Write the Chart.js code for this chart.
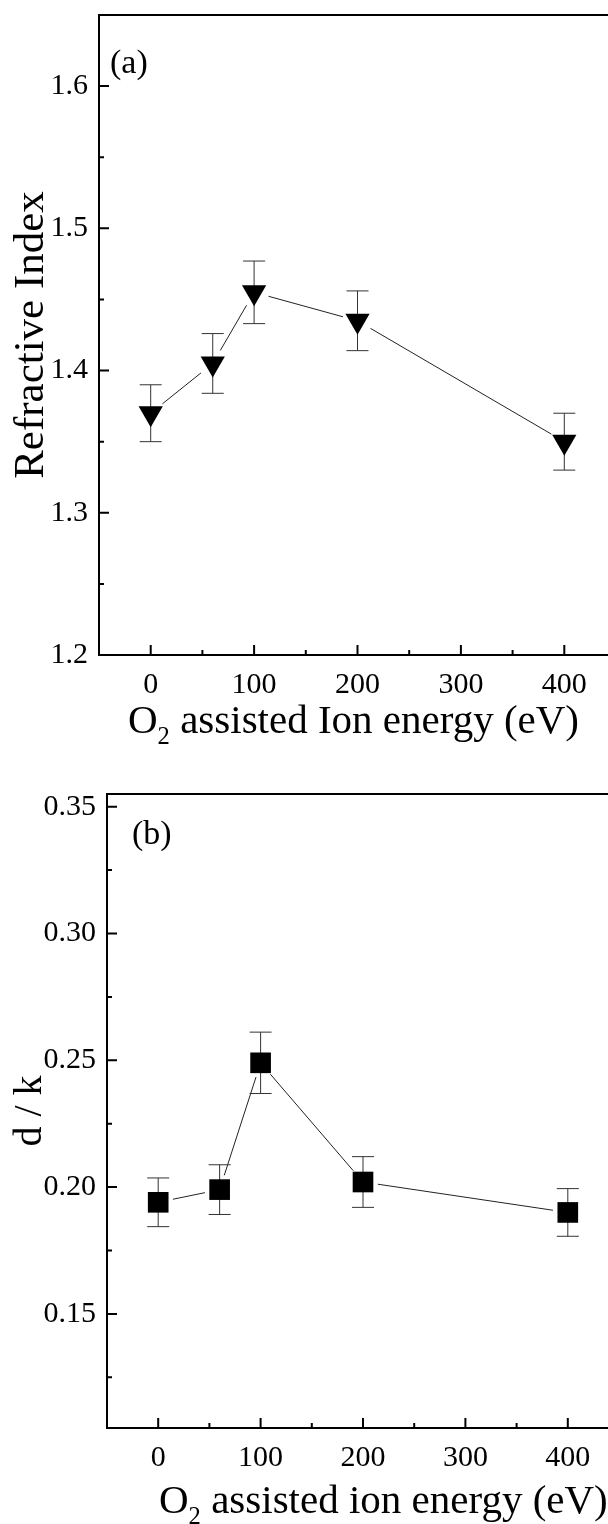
<!DOCTYPE html>
<html>
<head>
<meta charset="utf-8">
<title>Refractive index and d/k vs O2 ion energy</title>
<script src="https://cdn.jsdelivr.net/npm/chart.js@4.4.1/dist/chart.umd.min.js"></script>
<style>
    html, body { margin: 0; padding: 0; background: #fff; overflow: hidden; }
    #page { position: relative; width: 608px; height: 1524px; overflow: hidden; }
    .panel { position: absolute; left: 0; width: 640px; }
    .xtitle {
        position: absolute;
        font-family: "Liberation Serif", "Times New Roman", serif;
        font-size: 41px;
        line-height: 1;
        white-space: nowrap;
        color: #000;
    }
    .xtitle sub { font-size: 0.6em; vertical-align: -0.45em; line-height: 0; }
</style>
</head>
<body>
<div id="page">
    <div class="panel" style="top:0;height:760px"><canvas id="indexChart" width="640" height="760"></canvas></div>
    <div class="xtitle" style="left:128px;top:699px">O<sub>2</sub> assisted Ion energy (eV)</div>
    <div class="panel" style="top:760px;height:764px"><canvas id="dkChart" width="640" height="764"></canvas></div>
    <div class="xtitle" style="left:159px;top:1479px">O<sub>2</sub> assisted ion energy (eV)</div>
</div>
<script>
// ion energy (eV) and the two measured quantities
const energy = [0, 60, 100, 200, 400];
const refIndex = [1.370, 1.405, 1.455, 1.435, 1.350];
const refIndexErr = [0.020, 0.021, 0.022, 0.021, 0.020];
const dk = [0.194, 0.199, 0.249, 0.202, 0.190];
const dkErr = [0.0096, 0.0098, 0.0121, 0.0100, 0.0094];

// tick values
const energyTicks = [0, 100, 200, 300, 400];
const energyMinor = [50, 150, 250, 350];
const indexTicks = [1.2, 1.3, 1.4, 1.5, 1.6];
const indexMinor = [1.25, 1.35, 1.45, 1.55];
const dkTicks = [0.15, 0.20, 0.25, 0.30, 0.35];
const dkMinor = [0.125, 0.175, 0.225, 0.275, 0.325];

Chart.defaults.font.family = '"Liberation Serif", "Times New Roman", serif';
Chart.defaults.color = "#000";

// error bars + connecting line with a gap around each symbol
const errorBars = {
    id: "errorBars",
    beforeDatasetsDraw(chart) {
        const ctx = chart.ctx;
        const yScale = chart.scales.y;
        chart.data.datasets.forEach((ds, i) => {
            const pts = chart.getDatasetMeta(i).data;
            ctx.save();
            // line between points, stopped short of the symbols
            ctx.strokeStyle = "#222";
            ctx.lineWidth = 1;
            const gap = 15;
            for (let j = 1; j < pts.length; j++) {
                const a = pts[j - 1], b = pts[j];
                const dx = b.x - a.x, dy = b.y - a.y;
                const len = Math.sqrt(dx * dx + dy * dy);
                if (len < gap * 2) continue;
                const ux = dx / len, uy = dy / len;
                ctx.beginPath();
                ctx.moveTo(a.x + ux * gap, a.y + uy * gap);
                ctx.lineTo(b.x - ux * gap, b.y - uy * gap);
                ctx.stroke();
            }
            // vertical error bars with caps
            ctx.strokeStyle = "#333";
            const cap = 11;
            pts.forEach((p, j) => {
                const v = ds.data[j].y, e = ds.errors[j];
                const top = yScale.getPixelForValue(v + e);
                const bot = yScale.getPixelForValue(v - e);
                ctx.beginPath();
                ctx.moveTo(p.x, top); ctx.lineTo(p.x, bot);
                ctx.moveTo(p.x - cap, top); ctx.lineTo(p.x + cap, top);
                ctx.moveTo(p.x - cap, bot); ctx.lineTo(p.x + cap, bot);
                ctx.stroke();
            });
            ctx.restore();
        });
    }
};

// box frame, inward ticks and the panel letter
const frame = {
    id: "frame",
    afterDraw(chart, args, opts) {
        const ctx = chart.ctx;
        const area = chart.chartArea;
        const xs = chart.scales.x, ys = chart.scales.y;
        ctx.save();
        ctx.strokeStyle = "#000";
        ctx.lineWidth = 2;
        ctx.strokeRect(area.left, area.top, area.right - area.left, area.bottom - area.top);
        ctx.beginPath();
        opts.xMajor.forEach(v => {
            const x = xs.getPixelForValue(v);
            ctx.moveTo(x, area.bottom); ctx.lineTo(x, area.bottom - 10);
        });
        opts.xMinor.forEach(v => {
            const x = xs.getPixelForValue(v);
            ctx.moveTo(x, area.bottom); ctx.lineTo(x, area.bottom - 5);
        });
        opts.yMajor.forEach(v => {
            const y = ys.getPixelForValue(v);
            ctx.moveTo(area.left, y); ctx.lineTo(area.left + 10, y);
        });
        opts.yMinor.forEach(v => {
            const y = ys.getPixelForValue(v);
            ctx.moveTo(area.left, y); ctx.lineTo(area.left + 5, y);
        });
        ctx.stroke();

        ctx.fillStyle = "#000";
        ctx.font = '34px "Liberation Serif", serif';
        ctx.textBaseline = "middle";
        ctx.textAlign = "left";
        ctx.fillText(opts.tag, area.left + opts.tagX, area.top + opts.tagY);
        ctx.restore();
    }
};

function makePanel (canvasId, cfg) {
    const ctx = document.getElementById(canvasId);
    return new Chart(ctx, {
        type: "scatter",
        data: {
            datasets: [{
                data: energy.map((e, i) => ({x: e, y: cfg.values[i]})),
                errors: cfg.errors,
                showLine: false,
                pointStyle: cfg.symbol,
                rotation: cfg.rotation,
                pointRadius: cfg.radius,
                pointBackgroundColor: "#000",
                pointBorderColor: "#000",
                pointBorderWidth: 0
            }]
        },
        options: {
            responsive: false,
            animation: false,
            devicePixelRatio: 1,
            layout: {
                autoPadding: false,
                padding: {left: 0, top: cfg.top, right: cfg.right, bottom: 0}
            },
            plugins: {
                legend: {display: false},
                tooltip: {enabled: false},
                frame: {
                    xMajor: energyTicks, xMinor: energyMinor,
                    yMajor: cfg.yTicks, yMinor: cfg.yMinor,
                    tag: cfg.tag, tagX: cfg.tagX, tagY: cfg.tagY
                }
            },
            scales: {
                x: {
                    type: "linear",
                    min: -50,
                    max: 450,
                    grid: {display: false, drawTicks: false},
                    border: {display: false},
                    afterBuildTicks: s => { s.ticks = energyTicks.map(v => ({value: v})); },
                    afterFit: s => {
                        s.height = cfg.xHeight;
                        s.paddingLeft = 0;
                        s.paddingRight = 0;
                    },
                    ticks: {
                        padding: 12,
                        font: {size: 30},
                        autoSkip: false,
                        maxRotation: 0,
                        callback: v => String(v)
                    }
                },
                y: {
                    type: "linear",
                    min: cfg.yMin,
                    max: cfg.yMax,
                    grid: {display: false, drawTicks: false},
                    border: {display: false},
                    afterBuildTicks: s => { s.ticks = cfg.yTicks.map(v => ({value: v})); },
                    afterFit: s => {
                        s.width = cfg.yWidth;
                        s.paddingTop = 0;
                        s.paddingBottom = 0;
                    },
                    title: {
                        display: true,
                        text: cfg.yTitle,
                        font: {size: cfg.titleSize},
                        padding: {top: 6, bottom: 0}
                    },
                    ticks: {
                        padding: 11,
                        font: {size: 30},
                        autoSkip: false,
                        callback: v => v.toFixed(cfg.digits)
                    }
                }
            }
        },
        plugins: [errorBars, frame]
    });
}

makePanel("indexChart", {
    values: refIndex, errors: refIndexErr,
    symbol: "triangle", rotation: 180, radius: 14,
    yMin: 1.2, yMax: 1.65, yTicks: indexTicks, yMinor: indexMinor, digits: 1,
    yTitle: "Refractive Index", titleSize: 43,
    top: 15, right: 24, xHeight: 105, yWidth: 99,
    tag: "(a)", tagX: 11, tagY: 49
});

makePanel("dkChart", {
    values: dk, errors: dkErr,
    symbol: "rect", rotation: 0, radius: 14.6,
    yMin: 0.105, yMax: 0.355, yTicks: dkTicks, yMinor: dkMinor, digits: 2,
    yTitle: "d / k", titleSize: 40,
    top: 34, right: 21, xHeight: 96, yWidth: 107,
    tag: "(b)", tagX: 25, tagY: 41
});
</script>
</body>
</html>
